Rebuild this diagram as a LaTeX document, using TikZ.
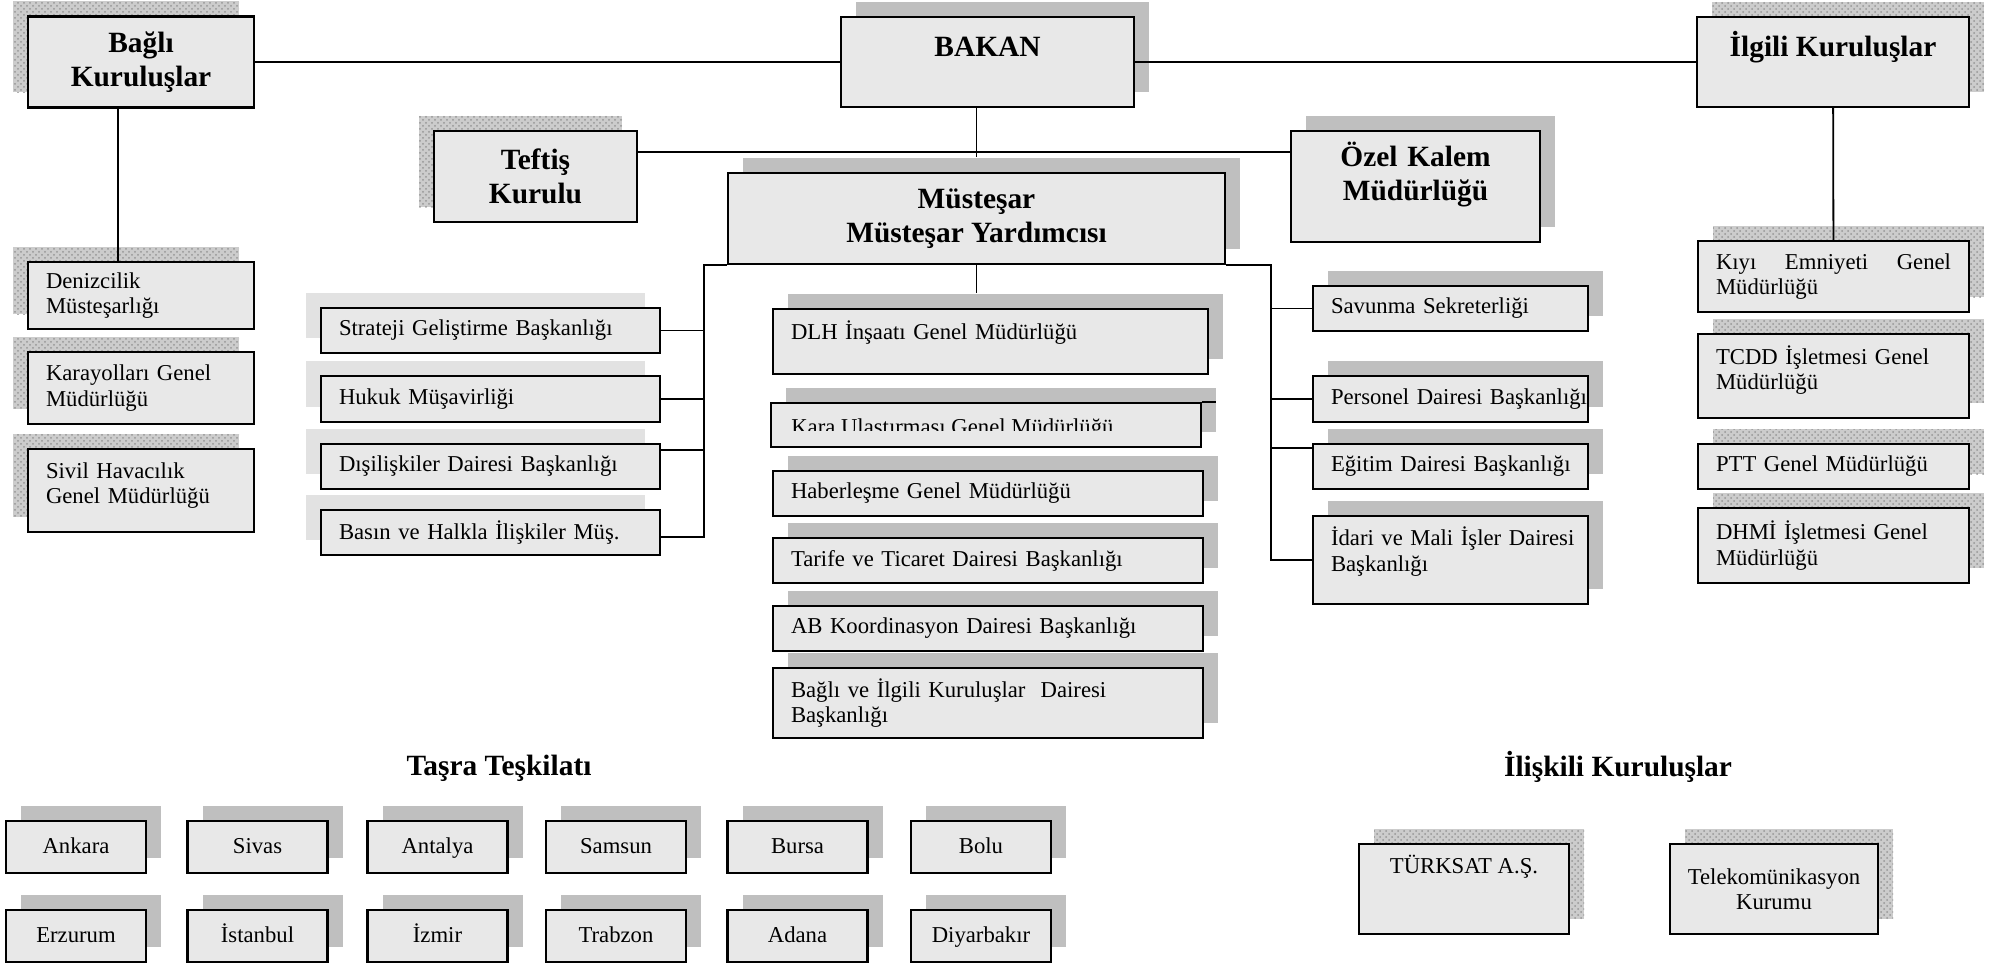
\documentclass[tikz,border=0pt]{standalone}
\usepackage{fontspec}
\setmainfont{Liberation Serif}
\usetikzlibrary{shadows,patterns}
\definecolor{boxgray}{RGB}{232,232,232}
\definecolor{shadegray}{RGB}{191,191,191}
\definecolor{palegray}{RGB}{226,226,226}
\definecolor{dotgray}{RGB}{150,150,150}
\newcommand{\orghead}{\fontsize{14.7pt}{17pt}\selectfont\bfseries}
\newcommand{\orgunit}{\fontsize{11.35pt}{12.6pt}\selectfont}
\hyphenpenalty=10000
\exhyphenpenalty=10000

\begin{document}
\begin{tikzpicture}[x=0.5pt, y=-0.5pt]

%
% Styles
%
\tikzstyle{box}       = [draw=black, line width=1.1pt, fill=boxgray, inner xsep=9pt, inner ysep=1pt]
\tikzstyle{head}      = [box, font=\orghead, align=center]
\tikzstyle{unit}      = [box, font=\orgunit, align=left]
\tikzstyle{plate}     = [box, font=\orgunit, align=center]
\tikzstyle{city}      = [plate, minimum width=70pt, minimum height=26pt, text height=8.5pt, text depth=2.5pt]
\tikzstyle{heading}   = [font=\orghead]
\tikzstyle{shade}     = [general shadow={fill=shadegray, shadow xshift=7.5pt, shadow yshift=7.5pt}]
\tikzstyle{paleleft}  = [general shadow={fill=palegray, shadow xshift=-7.5pt, shadow yshift=7.5pt}]
\tikzstyle{dotsleft}  = [general shadow={fill=black!20, shadow xshift=-7.5pt, shadow yshift=7.5pt,
                         postaction={pattern=crosshatch dots, pattern color=dotgray}}]
\tikzstyle{dotsright} = [general shadow={fill=black!20, shadow xshift=7.5pt, shadow yshift=7.5pt,
                         postaction={pattern=crosshatch dots, pattern color=dotgray}}]
\tikzstyle{wire}      = [line width=0.9pt]

\useasboundingbox (0,0) rectangle (1995,963);

% top level
\node[head, dotsleft, minimum width=113pt, minimum height=45.5pt] (bagli) at (141,62) {Bağlı\\Kuruluşlar};
\node[head, shade, minimum width=146.5pt, minimum height=45pt, text depth=15pt] (bakan) at (987.5,62) {BAKAN};
\node[head, dotsright, minimum width=136pt, minimum height=45pt, text depth=18pt] (ilgili) at (1833,62) {İlgili Kuruluşlar};
\node[head, dotsleft, minimum width=101.5pt, minimum height=45.5pt] (teftis) at (535.5,176.5) {Teftiş\\Kurulu};
\node[head, shade, text width=106.5pt, minimum height=55.5pt, text depth=32pt] (ozel) at (1415.5,186.5) {Özel Kalem\\Müdürlüğü};
\node[head, shade, minimum width=248.5pt, minimum height=45.5pt] (mustesar) at (976.5,218.5) {Müsteşar\\Müsteşar Yardımcısı};

% bagli kuruluslar
\node[unit, dotsleft, text width=95pt, minimum height=33.5pt] (deniz) at (141,295.5) {Denizcilik\\Müsteşarlığı};
\node[unit, dotsleft, text width=95pt, minimum height=36pt] (karayol) at (141,388) {Karayolları Genel\\Müdürlüğü};
\node[unit, dotsleft, text width=95pt, minimum height=41.5pt, text depth=20pt] (sivil) at (141,490.5) {Sivil Havacılık\\Genel Müdürlüğü};

% danisma birimleri
\node[unit, paleleft, text width=151.5pt, minimum height=22.5pt] (strateji) at (490.5,330.5) {Strateji Geliştirme Başkanlığı};
\node[unit, paleleft, text width=151.5pt, minimum height=23pt] (hukuk) at (490.5,399) {Hukuk Müşavirliği};
\node[unit, paleleft, text width=151.5pt, minimum height=22.5pt] (disil) at (490.5,466.5) {Dışilişkiler Dairesi Başkanlığı};
\node[unit, paleleft, text width=151.5pt, minimum height=22.5pt] (basin) at (490.5,532.5) {Basın ve Halkla İlişkiler Müş.};

% ana hizmet birimleri
\node[unit, shade, text width=199.5pt, minimum height=32.5pt, text depth=11pt] (dlh) at (990.5,341.5) {DLH İnşaatı Genel Müdürlüğü};
\node[unit, shade, text width=197pt, minimum height=22pt] (kara) at (986,425) {};
\node[unit, shade, text width=197pt, minimum height=22.5pt] (haber) at (988,493.5) {Haberleşme Genel Müdürlüğü};
\node[unit, shade, text width=197pt, minimum height=22.5pt] (tarife) at (988,560.5) {Tarife ve Ticaret Dairesi Başkanlığı};
\node[unit, shade, text width=197pt, minimum height=22.5pt] (ab) at (988,628.5) {AB Koordinasyon Dairesi Başkanlığı};
\node[unit, shade, text width=197pt, minimum height=35pt] (bagliilgili) at (988,703) {Bağlı ve İlgili Kuruluşlar~ Dairesi\\Başkanlığı};

\begin{scope}
  \clip (kara.north west) rectangle ([yshift=-2.5pt]kara.east);
  \node[font=\orgunit, anchor=base west, inner sep=0pt] (karatext) at ([xshift=10.5pt, yshift=-4.75pt]kara.west) {Kara Ulaştırması Genel Müdürlüğü};
\end{scope}
\draw[line width=1.1pt] (kara.north east) -- ++(14,0);

% yardimci birimler
\node[unit, shade, text width=119.5pt, minimum height=22.5pt] (savunma) at (1450.5,308.5) {Savunma Sekreterliği};
\node[unit, shade, text width=119.5pt, minimum height=23pt] (personel) at (1450.5,399) {\mbox{Personel Dairesi Başkanlığı}};
\node[unit, shade, text width=119.5pt, minimum height=22.5pt] (egitim) at (1450.5,466.5) {\mbox{Eğitim Dairesi Başkanlığı}};
\node[unit, shade, text width=119.5pt, minimum height=44pt, text depth=23.5pt] (idari) at (1450.5,560) {\mbox{İdari ve Mali İşler Dairesi}\\Başkanlığı};

% ilgili kuruluslar
\node[unit, dotsright, text width=117.5pt, minimum height=35.5pt, align=justify] (kiyi) at (1833.5,276.5) {Kıyı Emniyeti Genel Müdürlüğü};
\node[unit, dotsright, text width=117.5pt, minimum height=42pt, text depth=21pt] (tcdd) at (1833.5,376) {TCDD İşletmesi Genel\\Müdürlüğü};
\node[unit, dotsright, text width=117.5pt, minimum height=22.5pt] (ptt) at (1833.5,466.5) {PTT Genel Müdürlüğü};
\node[unit, dotsright, text width=117.5pt, minimum height=37.5pt] (dhmi) at (1833.5,545.5) {DHMİ İşletmesi Genel\\Müdürlüğü};

% tasra teskilati
\node[heading] (tasra) at (499,768) {Taşra Teşkilatı};
\foreach \name/\city/\xc in {ankara/Ankara/76, sivas/Sivas/257.5, antalya/Antalya/437.5,
                             samsun/Samsun/616, bursa/Bursa/797.5, bolu/Bolu/981}
  \node[city, shade] (\name) at (\xc,847) {\city};
\foreach \name/\city/\xc in {erzurum/Erzurum/76, istanbul/İstanbul/257.5, izmir/İzmir/437.5,
                             trabzon/Trabzon/616, adana/Adana/797.5, diyarbakir/Diyarbakır/981}
  \node[city, shade] (\name) at (\xc,936) {\city};

% iliskili kuruluslar
\node[heading] (iliskili) at (1618,767) {İlişkili Kuruluşlar};
\node[plate, dotsright, minimum width=105pt, minimum height=45pt, text depth=25pt] (turksat) at (1464,889) {TÜRKSAT A.Ş.};
\node[plate, dotsright, minimum width=104pt, minimum height=45pt] (telekom) at (1774,889) {Telekomünikasyon\\Kurumu};

% connections
\coordinate (bar) at (976.5,152);
\coordinate (lbus) at ([xshift=-11.5pt]mustesar.south west);
\coordinate (rbus) at ([xshift=22.5pt]mustesar.south east);
\coordinate (disjoin) at ([yshift=8.25pt]disil.east);
\coordinate (basjoin) at ([yshift=-2.25pt]basin.east);
\coordinate (egijoin) at ([yshift=9.25pt]egitim.west);
\coordinate (dlhtop) at ([yshift=7.5pt]dlh.north);

\draw[wire] (bagli) -- (bakan);
\draw[wire] (bakan) -- (ilgili);
\draw[wire] ([xshift=-11.5pt]bagli.south) -- ([xshift=-11.5pt]deniz.north);
\draw[wire] (ilgili) -- (kiyi);
\draw[wire] (bakan.south -| mustesar.north) -- ([yshift=7.5pt]mustesar.north);
\draw[wire] (teftis.east |- bar) -- (ozel.west |- bar);

\draw[wire] (mustesar.south west) -- (lbus) |- (basjoin);
\draw[wire] (lbus |- strateji.east) -- (strateji.east);
\draw[wire] (lbus |- hukuk.east) -- (hukuk.east);
\draw[wire] (lbus |- disjoin) -- (disjoin);

\draw[wire] (mustesar.south) -- (mustesar.south |- dlhtop);

\draw[wire] (mustesar.south east) -- (rbus) |- (idari.west);
\draw[wire] (rbus |- savunma.west) -- (savunma.west);
\draw[wire] (rbus |- personel.west) -- (personel.west);
\draw[wire] (rbus |- egijoin) -- (egijoin);

\end{tikzpicture}
\end{document}
